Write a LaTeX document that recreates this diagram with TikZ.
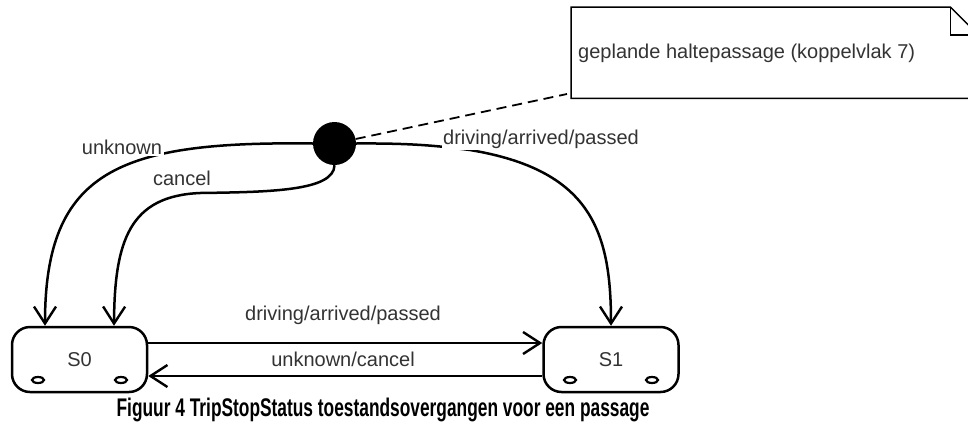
\documentclass[tikz,border=0pt]{standalone}
\usepackage{fontspec}
\setmainfont{Liberation Sans}
\usetikzlibrary{arrows.meta,calc,shapes.geometric}
\tikzset{
  conn/.style={line width=2.5pt, draw=black},
  tip/.style={-{Straight Barb[length=17pt,width=22pt,line width=2.4pt]}},
  state/.style={draw, line width=2.5pt, rounded corners=18pt, minimum width=135pt, minimum height=65pt, inner sep=0pt, text=black!80, font=\fontsize{20}{22}\selectfont},
  lbl/.style={fill=white, inner sep=1.5pt, text=black!80, font=\fontsize{20}{22}\selectfont},
  dot/.style={ellipse, draw, line width=2.2pt, minimum width=12pt, minimum height=6pt, inner sep=0pt},
}
\begin{document}
\begin{tikzpicture}[x=1pt,y=-1pt]
\useasboundingbox (0,0) rectangle (968,426);
\clip (0,0) rectangle (968,426);
% states
\node[state] (s0) at (79.5,359.5) {S0};
\node[state] (s1) at (611,359.5) {S1};
\node[dot] (d1) at (38,380) {};
\node[dot] (d2) at (121,380) {};
\node[dot] (d3) at (570,380) {};
\node[dot] (d4) at (652,380) {};
% initial
\node[circle, fill=black, minimum size=43pt, inner sep=0pt] (init) at (334.5,143.5) {};
% note
\node[minimum width=407pt, minimum height=91pt, anchor=north west, inner sep=0pt] (note) at (571,7) {};
\draw[line width=1.5pt] (note.south west) -- (note.north west) -- ([xshift=-28pt]note.north east) -- ([yshift=-28pt]note.north east) -- (note.south east) -- cycle;
\draw[line width=1.5pt] ([xshift=-28pt]note.north east) -- ([xshift=-28pt,yshift=-28pt]note.north east) -- ([yshift=-28pt]note.north east);
\node[anchor=west, inner sep=0pt, text=black!80, font=\fontsize{20}{22}\selectfont] (notetext) at (578,53) {geplande haltepassage (koppelvlak 7)};
\coordinate (nc) at (567,94);
\draw[line width=1.8pt, dash pattern=on 10pt off 6pt] (init) -- (nc);
% transitions from initial
\draw[conn, tip] (init.west) .. controls (120,141) and (45,170) .. ([xshift=-34.5pt]s0.north);
\draw[conn, tip] (init.south) .. controls (334,191) and (270,192) .. (200,193) .. controls (130,196) and (114.5,240) .. ([xshift=34.5pt]s0.north);
\draw[conn, tip] (init.east) .. controls (420,143) and (445,147) .. (470,150) .. controls (590,170) and (611,230) .. (s1.north);
% transitions between states
\draw[conn, tip] ([yshift=16.5pt]s0.east) -- ([yshift=16.5pt]s1.west);
\draw[conn, tip] ([yshift=-16.5pt]s1.west) -- ([yshift=-16.5pt]s0.east);
% labels
\node[lbl] (l1) at (122,147) {unknown};
\node[lbl] (l2) at (182,178) {cancel};
\node[lbl] (l3) at (541,139) {driving/arrived/passed};
\node[lbl] (l4) at (343,315) {driving/arrived/passed};
\node[lbl] (l5) at (343,359) {unknown/cancel};
% caption
\node[anchor=base, inner sep=0pt, font=\bfseries\fontsize{25.5}{28}\selectfont] (cap) at (383,416) {\scalebox{0.68}[1]{Figuur 4 TripStopStatus toestandsovergangen voor een passage}};
\end{tikzpicture}
\end{document}
